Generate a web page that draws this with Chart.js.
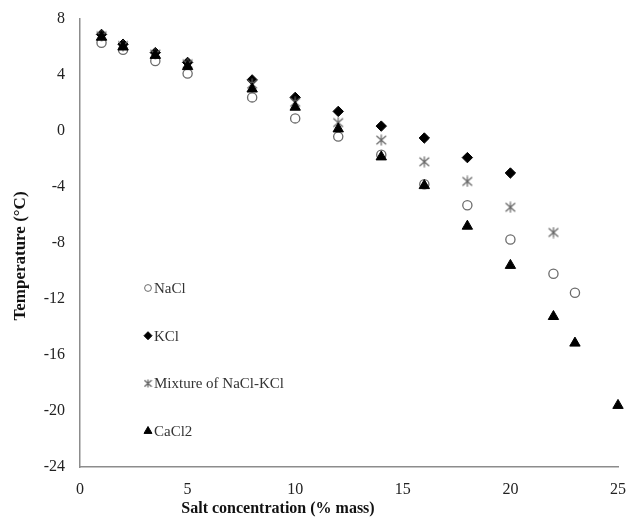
<!DOCTYPE html>
<html>
<head>
<meta charset="utf-8">
<script src="https://cdn.jsdelivr.net/npm/chart.js"></script>
<style>
  body { margin: 0; background: #fff; }
  #wrap { width: 626px; height: 525px; }
</style>
</head>
<body>
<div id="wrap"><canvas id="myChart"></canvas></div>
<script>
// salt concentration (% mass) and freezing temperature (°C)
const concNaCl = [1, 2, 3.5, 5, 8, 10, 12, 14, 16, 18, 20, 22, 23];
const tempNaCl = [6.3, 5.8, 5.0, 4.1, 2.4, 0.9, -0.4, -1.7, -3.8, -5.3, -7.75, -10.2, -11.55];

const concKCl = [1, 2, 3.5, 5, 8, 10, 12, 14, 16, 18, 20];
const tempKCl = [6.9, 6.2, 5.6, 4.9, 3.65, 2.4, 1.4, 0.35, -0.5, -1.9, -3.0];

const concMix = [1, 2, 3.5, 5, 8, 10, 12, 14, 16, 18, 20, 22];
const tempMix = [6.8, 6.1, 5.5, 4.8, 3.35, 2.05, 0.6, -0.65, -2.2, -3.6, -5.45, -7.25];

const concCaCl2 = [1, 2, 3.5, 5, 8, 10, 12, 14, 16, 18, 20, 22, 23, 25];
const tempCaCl2 = [6.7, 6.0, 5.4, 4.6, 3.0, 1.7, 0.15, -1.85, -3.9, -6.8, -9.6, -13.25, -15.15, -19.6];

const seriesLabels = ["NaCl", "KCl", "Mixture of NaCl-KCl", "CaCl2"];
const xTicks = [0, 5, 10, 15, 20, 25];
const yTicks = [-24, -20, -16, -12, -8, -4, 0, 4, 8];

function toPoints(xs, ys) {
  return xs.map((x, i) => ({ x: x, y: ys[i] }));
}

// asterisk marker (vertical bar + X)
function asterisk(size, color) {
  const c = document.createElement("canvas");
  c.width = size;
  c.height = size;
  const g = c.getContext("2d");
  g.strokeStyle = color;
  g.lineWidth = 1.2;
  const m = size / 2;
  const dx = size * 0.4;
  const dy = size * 0.36;
  g.beginPath();
  g.moveTo(m, 0.5);
  g.lineTo(m, size - 0.5);
  g.moveTo(m - dx, m - dy);
  g.lineTo(m + dx, m + dy);
  g.moveTo(m - dx, m + dy);
  g.lineTo(m + dx, m - dy);
  g.stroke();
  return c;
}

const styles = [
  { pointStyle: "circle", radius: 4.6, bg: "#fff", border: "#6b6b6b", bw: 1.3 },
  { pointStyle: "rectRot", radius: 5.2, bg: "#000", border: "#000", bw: 1 },
  { pointStyle: asterisk(12, "#666"), radius: 6, bg: "#666", border: "#666", bw: 1 },
  { pointStyle: "triangle", radius: 6, bg: "#000", border: "#000", bw: 1 },
];
const legendStyles = [
  { pointStyle: "circle", radius: 3.4, bg: "#fff", border: "#6b6b6b", bw: 1 },
  { pointStyle: "rectRot", radius: 4, bg: "#000", border: "#000", bw: 1 },
  { pointStyle: asterisk(9, "#666"), radius: 4.5, bg: "#666", border: "#666", bw: 1 },
  { pointStyle: "triangle", radius: 4.6, bg: "#000", border: "#000", bw: 1 },
];

const seriesData = [
  toPoints(concNaCl, tempNaCl),
  toPoints(concKCl, tempKCl),
  toPoints(concMix, tempMix),
  toPoints(concCaCl2, tempCaCl2),
];

// legend drawn inside the plot, plus axis titles
const extras = {
  id: "extras",
  afterDraw(chart) {
    const ctx = chart.ctx;
    const area = chart.chartArea;
    ctx.save();
    ctx.font = "15px 'Liberation Serif', 'Times New Roman', serif";
    ctx.textAlign = "left";
    ctx.textBaseline = "middle";
    seriesLabels.forEach((label, i) => {
      const s = legendStyles[i];
      const x = area.left + 68;
      const y = area.top + 269 + i * 47.7;
      ctx.fillStyle = s.bg;
      ctx.strokeStyle = s.border;
      ctx.lineWidth = s.bw;
      Chart.helpers.drawPoint(ctx, { pointStyle: s.pointStyle, radius: s.radius, rotation: 0, borderWidth: s.bw }, x, y);
      ctx.fillStyle = "#333";
      ctx.fillText(label, x + 6, y + 1);
    });
    // axis titles
    ctx.fillStyle = "#111";
    ctx.font = "bold 16px 'Liberation Serif', 'Times New Roman', serif";
    ctx.textAlign = "center";
    ctx.fillText("Salt concentration (% mass)", 278, 509);
    ctx.translate(21, 256);
    ctx.rotate(-Math.PI / 2);
    ctx.font = "bold 17px 'Liberation Serif', 'Times New Roman', serif";
    ctx.fillText("Temperature (°C)", 0, 0);
    ctx.restore();
  },
};

const ctx = document.getElementById("myChart");
new Chart(ctx, {
  type: "scatter",
  data: {
    datasets: seriesLabels.map((label, i) => ({
      label: label,
      data: seriesData[i],
      clip: false,
      pointStyle: styles[i].pointStyle,
      pointRadius: styles[i].radius,
      pointBackgroundColor: styles[i].bg,
      pointBorderColor: styles[i].border,
      pointBorderWidth: styles[i].bw,
      order: 4 - i,
    })),
  },
  plugins: [extras],
  options: {
    responsive: true,
    maintainAspectRatio: false,
    animation: false,
    layout: { padding: { top: 19, right: 8, left: 0, bottom: 0 } },
    plugins: {
      legend: { display: false },
      tooltip: { enabled: false },
    },
    scales: {
      x: {
        type: "linear",
        min: 0,
        max: 25,
        afterBuildTicks: (scale) => { scale.ticks = xTicks.map((v) => ({ value: v })); },
        afterFit: (scale) => {
          scale.height = 58;
          scale.paddingLeft = 0;
          scale.paddingRight = 0;
        },
        grid: { display: false, drawTicks: false },
        border: { display: true, color: "#8c8c8c", width: 1.5 },
        ticks: {
          padding: 13,
          color: "#222",
          font: { family: "'Liberation Serif', 'Times New Roman', serif", size: 16 },
        },
      },
      y: {
        type: "linear",
        min: -24,
        max: 8,
        afterBuildTicks: (scale) => { scale.ticks = yTicks.map((v) => ({ value: v })); },
        afterFit: (scale) => {
          scale.width = 80;
          scale.paddingTop = 0;
          scale.paddingBottom = 0;
        },
        grid: { display: false, drawTicks: false },
        border: { display: true, color: "#8c8c8c", width: 1.5 },
        ticks: {
          padding: 15,
          color: "#222",
          font: { family: "'Liberation Serif', 'Times New Roman', serif", size: 16 },
        },
      },
    },
  },
});
</script>
</body>
</html>
